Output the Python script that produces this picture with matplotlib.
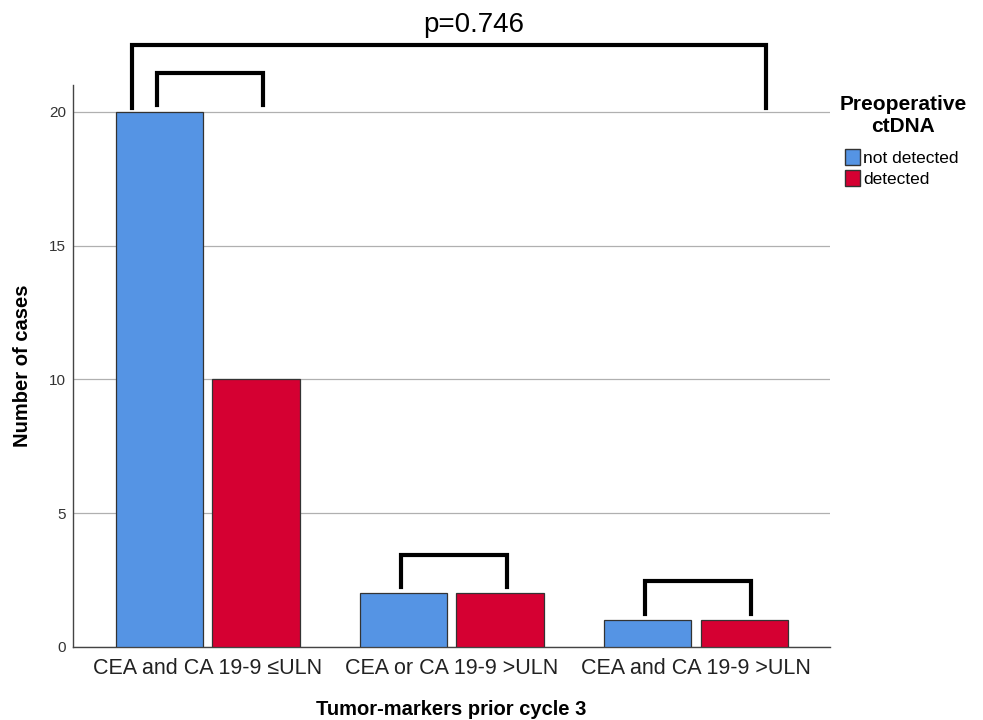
import matplotlib.pyplot as plt
from matplotlib.patches import Patch
import numpy as np

plt.rcParams['font.family'] = ['Liberation Sans', 'DejaVu Sans']

categories = ['CEA and CA 19-9 \u2264ULN', 'CEA or CA 19-9 >ULN', 'CEA and CA 19-9 >ULN']
not_detected = [20, 2, 1]
detected = [10, 2, 1]
p_label = 'p=0.746'

blue = '#5594E4'
red = '#D50032'

fig = plt.figure(figsize=(9.83, 7.2), dpi=100)
ax = fig.add_axes([0.0743, 0.1014, 0.770, 0.7806])

x = np.arange(len(categories))
w = 0.357
off = 0.197
ax.bar(x - off, not_detected, w, color=blue, edgecolor='#333333', linewidth=0.9, zorder=3)
ax.bar(x + off, detected, w, color=red, edgecolor='#333333', linewidth=0.9, zorder=3)

ax.set_xlim(-0.553, 2.549)
ax.set_ylim(0, 21.0)
ax.set_yticks([0, 5, 10, 15, 20])
ax.yaxis.grid(True, color='#b0b0b0', linewidth=0.9, zorder=0)
ax.set_axisbelow(True)
ax.set_xticks(x)
ax.set_xticklabels(categories, fontsize=15.5, color='#222222')
ax.tick_params(axis='y', labelsize=11, colors='#333333', length=0, pad=5)
ax.tick_params(axis='x', length=0, pad=8)
for s in ['top', 'right']:
    ax.spines[s].set_visible(False)
for s in ['left', 'bottom']:
    ax.spines[s].set_color('#444444')
    ax.spines[s].set_linewidth(1.0)

ax.set_ylabel('Number of cases', fontsize=14.5, fontweight='bold', labelpad=12)
ax.set_xlabel('Tumor-markers prior cycle 3', fontsize=14.5, fontweight='bold')
ax.xaxis.set_label_coords(0.5, -0.112)
ax.xaxis.label.set_va('center')

# significance brackets
def bracket(x0, x1, y0, y1):
    ax.plot([x0, x0, x1, x1], [y0, y1, y1, y0], color='black', lw=3,
            solid_joinstyle='miter', clip_on=False, zorder=5)

for i in range(len(categories)):
    top = max(not_detected[i], detected[i])
    bracket(i - 0.21, i + 0.225, top + 0.25, top + 1.45)

bracket(-0.311, 2.287, 20.15, 22.5)
ax.text(1.09, 23.25, p_label, fontsize=20, ha='center', va='center')

# legend
fig.text(903 / 983, 1 - 116 / 720, 'Preoperative\nctDNA', fontsize=15, fontweight='bold',
         ha='center', va='center', multialignment='center', linespacing=1.2)
handles = [Patch(facecolor=blue, edgecolor='#333333', label='not detected'),
           Patch(facecolor=red, edgecolor='#333333', label='detected')]
leg = fig.legend(handles=handles, loc='upper left',
                 bbox_to_anchor=(845 / 983, 1 - 149 / 720), frameon=False, fontsize=12.5,
                 handlelength=0.85, handleheight=1.0, handletextpad=0.2,
                 labelspacing=0.25, borderaxespad=0, borderpad=0)

fig.savefig('out.png', dpi=100)
